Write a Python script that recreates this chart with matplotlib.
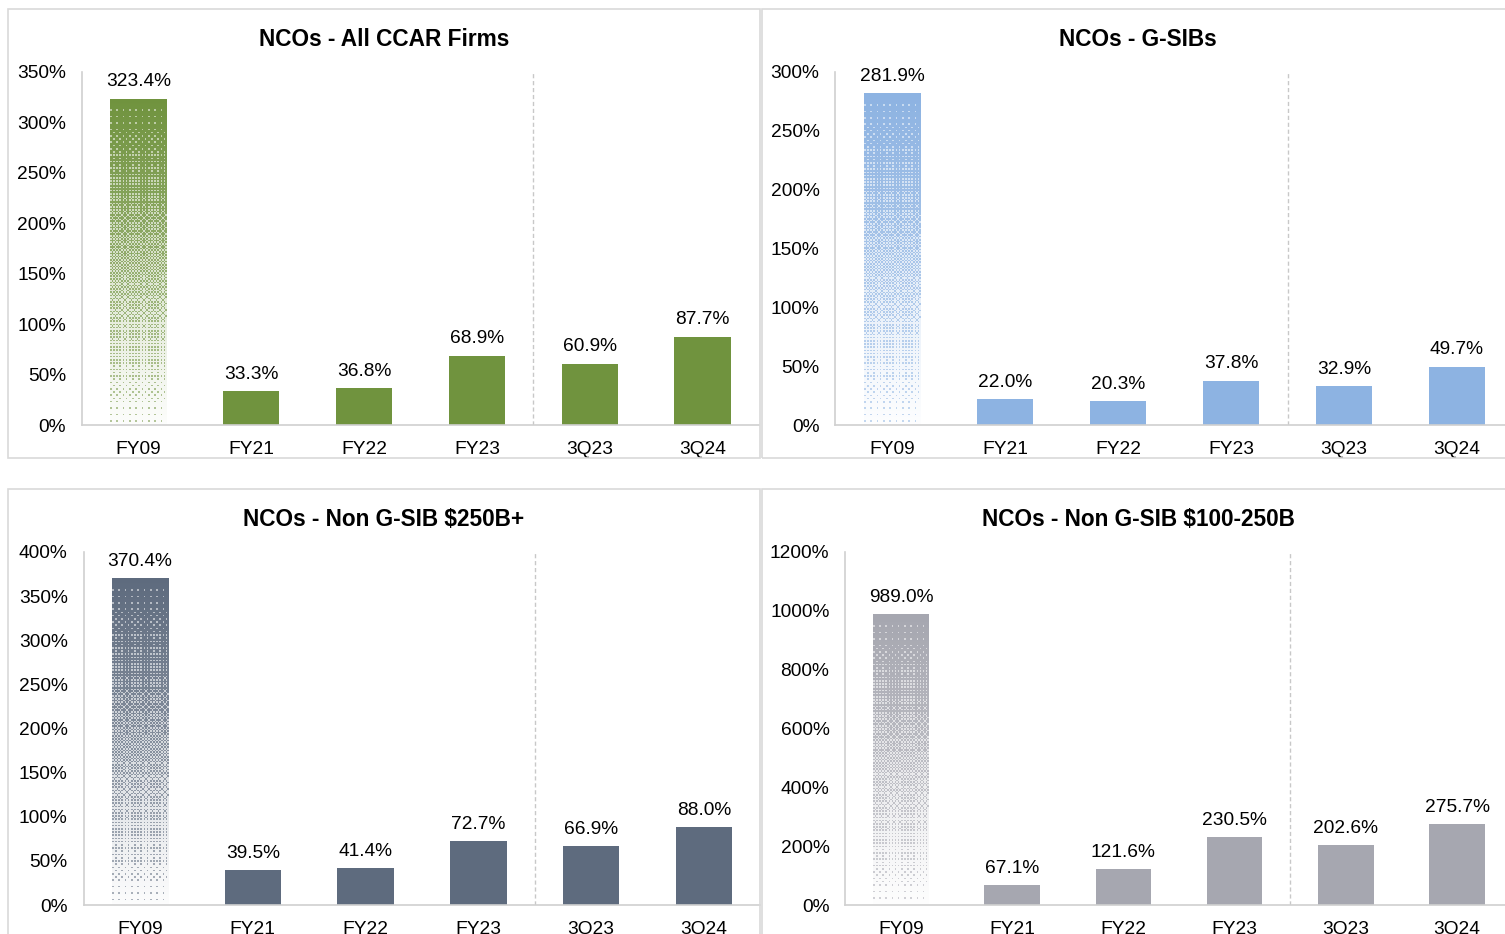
import numpy as np
import matplotlib
matplotlib.use("Agg")
import matplotlib.pyplot as plt
from matplotlib.patches import Rectangle
from matplotlib.colors import to_rgb

plt.rcParams['font.family'] = ['Liberation Sans', 'DejaVu Sans']

categories = ["FY09", "FY21", "FY22", "FY23", "3Q23", "3Q24"]
titles = ["NCOs - All CCAR Firms", "NCOs - G-SIBs",
          "NCOs - Non G-SIB $250B+", "NCOs - Non G-SIB $100-250B"]
all_ccar = [323.4, 33.3, 36.8, 68.9, 60.9, 87.7]
gsibs = [281.9, 22.0, 20.3, 37.8, 32.9, 49.7]
non_gsib_250 = [370.4, 39.5, 41.4, 72.7, 66.9, 88.0]
non_gsib_100_250 = [989.0, 67.1, 121.6, 230.5, 202.6, 275.7]
series = [all_ccar, gsibs, non_gsib_250, non_gsib_100_250]
colors = ["#70933e", "#8db3e2", "#5e6b7e", "#a6a7b0"]
ymaxes = [350, 300, 400, 1200]
ysteps = [50, 50, 50, 200]

W, H = 1505, 934
fig = plt.figure(figsize=(W / 100, H / 100), dpi=100)

# panel borders (pixel coords)
panels = [(8, 9, 760, 458), (762, 9, 1514, 458), (8, 489, 760, 960), (762, 489, 1514, 960)]
for (x0, y0, x1, y1) in panels:
    fig.patches.append(Rectangle((x0 / W, 1 - y1 / H), (x1 - x0) / W, (y1 - y0) / H,
                                 transform=fig.transFigure, fill=False,
                                 edgecolor="#d9d9d9", linewidth=1.2))

axes_px = [(82, 72, 759, 425), (835.5, 72, 1513.5, 425),
           (83.6, 552, 760.4, 905), (845.4, 552, 1512.6, 905)]
title_y = [39, 39, 519, 519]

bayer = np.array([[0, 8, 2, 10], [12, 4, 14, 6], [3, 11, 1, 9], [15, 7, 13, 5]]) / 16.0 + 1 / 32.0

for i in range(4):
    x0, y0, x1, y1 = axes_px[i]
    ax = fig.add_axes([x0 / W, 1 - y1 / H, (x1 - x0) / W, (y1 - y0) / H])
    vals = series[i]
    col = colors[i]
    xs = np.arange(len(categories))
    bars = ax.bar(xs, vals, width=0.5, color=col, zorder=2)
    # dithered gradient for the first bar
    b0 = bars[0]
    b0.set_facecolor("none")
    bar_px = vals[0] / ymaxes[i] * (y1 - y0)
    rows = max(int(bar_px / 1.6), 4)
    cols = 36
    t = np.linspace(1.0, 0.03, rows)[:, None] * np.ones((1, cols))
    thr = np.tile(bayer, (rows // 4 + 1, cols // 4 + 1))[:rows, :cols]
    v = 0.5 * t + 0.5 * (thr < t)
    v = np.clip(v, 0, 1)
    c = np.array(to_rgb(col))
    img = 1 - (1 - c)[None, None, :] * v[:, :, None]
    bx = b0.get_x()
    im = ax.imshow(img, extent=[bx, bx + b0.get_width(), 0, vals[0]],
                   aspect='auto', interpolation='nearest', zorder=2)
    im.set_clip_path(b0)

    ax.set_xlim(-0.5, len(categories) - 0.5)
    ax.set_ylim(0, ymaxes[i])
    ax.set_yticks(np.arange(0, ymaxes[i] + 1, ysteps[i]))
    ax.set_yticklabels([f"{int(t_)}%" for t_ in np.arange(0, ymaxes[i] + 1, ysteps[i])])
    ax.set_xticks(xs)
    ax.set_xticklabels(categories)
    ax.tick_params(axis='both', length=0, labelsize=13.8, colors="#000000")
    ax.tick_params(axis='y', pad=11.5)
    ax.tick_params(axis='x', pad=11.5)
    for s in ["top", "right"]:
        ax.spines[s].set_visible(False)
    ax.spines["left"].set_color("#d0d0d0")
    ax.spines["bottom"].set_color("#d0d0d0")
    ax.spines["left"].set_linewidth(1.2)
    ax.spines["bottom"].set_linewidth(1.2)
    ax.patch.set_alpha(0)
    ax.axvline(3.5, color="#c8c8c8", linestyle=(0, (3, 2)), linewidth=1.0, zorder=1)
    for x_, v_ in zip(xs, vals):
        ax.annotate(f"{v_:.1f}%", (x_, v_), xytext=(0, 6), textcoords="offset points",
                    ha="center", va="bottom", fontsize=13.8)
    px0 = panels[i][0]
    px1 = panels[i][2]
    fig.text(((px0 + px1) / 2) / W, 1 - title_y[i] / H, titles[i], ha="center", va="center",
             fontsize=16.3, fontweight="bold")

fig.savefig("out.png", dpi=100)
